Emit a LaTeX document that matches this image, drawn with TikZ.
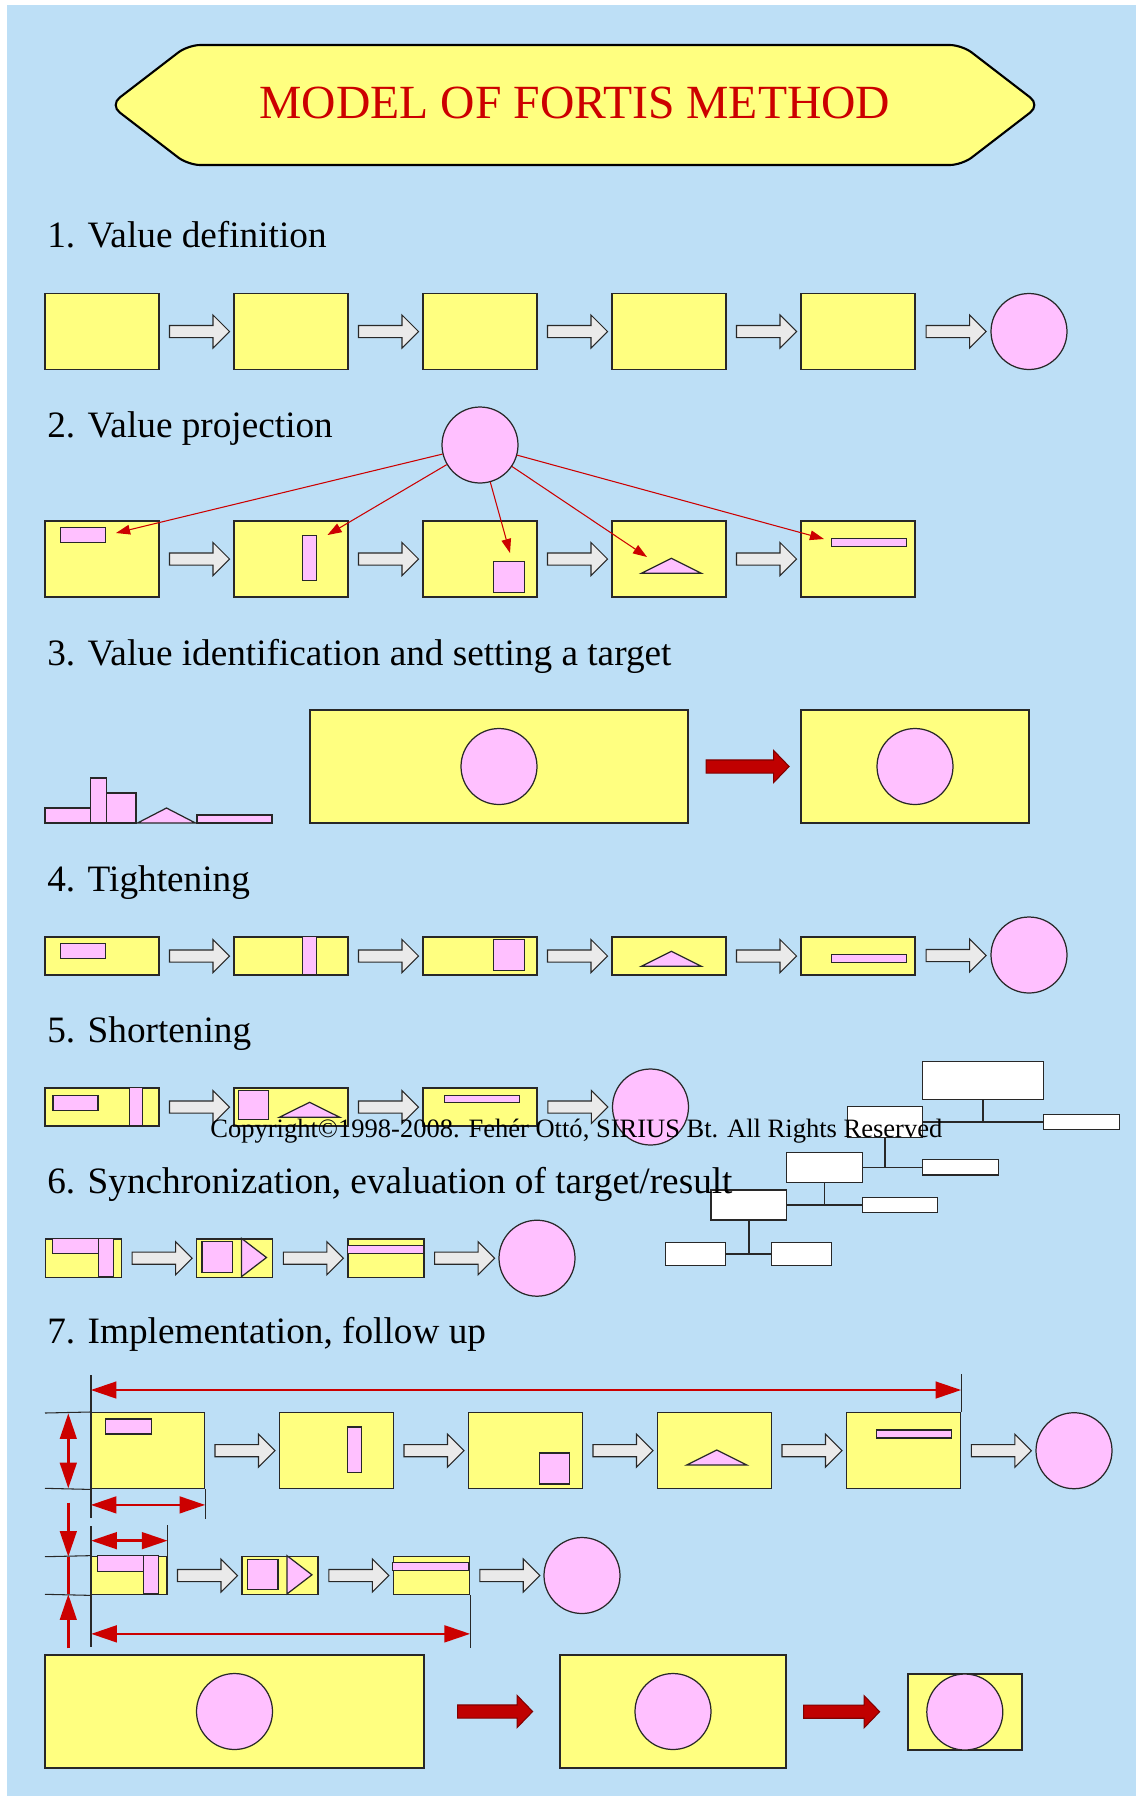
\documentclass[tikz,border=0pt]{standalone}
\usepackage{fontspec}
\setmainfont{Liberation Serif}
\usetikzlibrary{shapes.arrows,arrows.meta,calc}
\definecolor{bgblue}{RGB}{189,223,246}
\definecolor{boxy}{RGB}{255,255,128}
\definecolor{pinkc}{RGB}{255,192,255}
\definecolor{arrgray}{RGB}{234,234,234}
\definecolor{redc}{RGB}{204,0,0}
\definecolor{darkredc}{RGB}{192,0,0}
\definecolor{linec}{RGB}{40,40,40}

\begin{document}
\begin{tikzpicture}[x=0.02cm, y=-0.02cm,
  ybox/.style={draw=linec, fill=boxy, line width=0.8pt, inner sep=0pt},
  tallbox/.style={minimum width=2.28cm, minimum height=1.52cm},
  flatbox/.style={minimum width=2.28cm, minimum height=0.76cm},
  shortbox/.style={minimum width=1.52cm, minimum height=0.766cm},
  pk/.style={draw=linec, fill=pinkc, line width=0.7pt},
  valcirc/.style={circle, draw=linec, fill=pinkc, line width=0.7pt, minimum size=1.52cm, inner sep=0pt},
  garrow/.style={single arrow, draw=linec, fill=arrgray, line width=0.6pt, inner xsep=0pt,
    inner ysep=0.11cm, minimum height=1.2cm, single arrow head extend=0.21cm},
  rarrow/.style={single arrow, draw=red!50!black, fill=darkredc, line width=0.6pt, inner xsep=0pt,
    inner ysep=0.12cm, single arrow head extend=0.19cm, single arrow tip angle=92},
  proj/.style={draw=redc, line width=0.6pt, -{Triangle[length=8pt,width=5.5pt]}},
  dim/.style={draw=redc, line width=1.4pt, >={Triangle[length=14.6pt,width=9.5pt]}},
  ext/.style={draw=linec, line width=0.6pt},
  wbox/.style={draw=linec, fill=white, line width=0.7pt, inner sep=0pt},
  org/.style={draw=linec, line width=0.9pt},
  heading/.style={anchor=base west, inner sep=0pt, font=\fontsize{21.2}{25}\selectfont}]

% background
\fill[white] (0,0) rectangle (1136,1796);
\fill[bgblue] (7,5) rectangle (1136,1796);
\useasboundingbox (0,0) rectangle (1136,1796);

% title
\draw[fill=boxy, draw=black, line width=1.2pt, rounded corners=7pt]
  (110,105) -- (188,45) -- (962,45) -- (1040,105) -- (962,165) -- (188,165) -- cycle;
\node[anchor=base, inner sep=0pt, text=redc, font=\fontsize{27.1}{32}\selectfont] (title) at (575,118) {MODEL OF FORTIS METHOD};

% 1. value definition
\foreach \i in {1,...,5}
  \node[ybox,tallbox] (a\i) at ({102+189*(\i-1)},331.5) {};
\node[valcirc] (a6) at (1029,331.5) {};
\foreach \i/\j in {1/2,2/3,3/4,4/5,5/6}
  \path (a\i.east) -- node[garrow] {} (a\j.west);

% 2. value projection
\node[valcirc] (val) at (480,445) {};
\foreach \i in {1,...,5}
  \node[ybox,tallbox] (b\i) at ({102+189*(\i-1)},559) {};
\foreach \i/\j in {1/2,2/3,3/4,4/5}
  \path (b\i.east) -- node[garrow] {} (b\j.west);
\coordinate (p1) at (116,533);
\coordinate (p2) at (327.5,535);
\coordinate (p3) at (510,553);
\coordinate (p4) at (647,557);
\coordinate (p5) at (824,539);

% 3. value identification
\draw[pk] (45,808) rectangle (90.5,823);
\draw[pk] (90.5,778) rectangle (106.5,823);
\draw[pk] (106.5,793) rectangle (136,823);
\draw[pk] (137.5,823) -- (166.5,808) -- (195.5,823) -- cycle;
\draw[pk] (197,815) rectangle (272,823);
\node[ybox, minimum width=7.56cm, minimum height=2.26cm] (c1) at (499,766.5) {};
\node[valcirc] (c1v) at (c1) {};
\node[ybox, minimum width=4.56cm, minimum height=2.26cm] (c2) at (915,766.5) {};
\node[valcirc] (c2v) at (c2) {};
\path (c1.east) -- node[rarrow, minimum height=1.66cm] {} (c2.west);

% 4. tightening
\foreach \i in {1,...,5}
  \node[ybox,flatbox] (d\i) at ({102+189*(\i-1)},956) {};
\node[valcirc] (d6) at (1029,955) {};
\foreach \i/\j in {1/2,2/3,3/4,4/5,5/6}
  \path (d\i.east) -- node[garrow] {} (d\j.west);
\draw[pk] ([shift={(16,7)}]d1.north west) rectangle ++(45.5,15);
\draw[pk] ([shift={(69,0)}]d2.north west) rectangle ++(14,38);
\draw[pk] ([shift={(71.5,3)}]d3.north west) rectangle ++(30.5,31);
\draw[pk] ([shift={(30,30)}]d4.north west) -- ++(60,0) -- ++(-30,-15) -- cycle;
\draw[pk] ([shift={(31,18.5)}]d5.north west) rectangle ++(75,7.5);

% 5. shortening
\foreach \i in {1,2,3}
  \node[ybox,flatbox] (e\i) at ({102+189*(\i-1)},1107) {};
\node[valcirc] (e4) at (650.5,1107) {};
\foreach \i/\j in {1/2,2/3,3/4}
  \path (e\i.east) -- node[garrow] {} (e\j.west);
\draw[pk] ([shift={(8.6,8)}]e1.north west) rectangle ++(45,15);
\draw[pk] ([shift={(85,0)}]e1.north west) rectangle ++(13.5,38);
\draw[pk] ([shift={(5,3)}]e2.north west) rectangle ++(30.5,29);
\draw[pk] ([shift={(46,30)}]e2.north west) -- ++(60.5,0) -- ++(-30.25,-15) -- cycle;
\draw[pk] ([shift={(22,8)}]e3.north west) rectangle ++(75.5,7);

% organisation chart
\node[wbox, minimum width=2.41cm, minimum height=0.75cm] (o1) at (983,1080.5) {};
\node[wbox, minimum width=1.51cm, minimum height=0.61cm] (o2) at (885,1122) {};
\node[wbox, minimum width=1.52cm, minimum height=0.3cm] (o3) at (1081.3,1122) {};
\node[wbox, minimum width=1.51cm, minimum height=0.6cm] (o4) at (824.5,1167.3) {};
\node[wbox, minimum width=1.51cm, minimum height=0.31cm] (o5) at (960.5,1167.3) {};
\node[wbox, minimum width=1.51cm, minimum height=0.6cm] (o6) at (748.8,1205) {};
\node[wbox, minimum width=1.51cm, minimum height=0.31cm] (o7) at (900,1205) {};
\node[wbox, minimum width=1.2cm, minimum height=0.46cm] (o8) at (695.8,1254.2) {};
\node[wbox, minimum width=1.2cm, minimum height=0.46cm] (o9) at (801.8,1254.2) {};
\draw[org] (o2.east) -- (o3.west) (o1.south) -- (o1.south |- o2.east);
\draw[org] (o4.east) -- (o5.west) (o2.south) -- (o2.south |- o4.east);
\draw[org] (o6.east) -- (o7.west) (o4.south) -- (o4.south |- o6.east);
\draw[org] (o8.east) -- (o9.west) (o6.south) -- (o6.south |- o8.east);

% 6. synchronization
\foreach \i in {1,2,3}
  \node[ybox,shortbox] (f\i) at ({83.4+151.3*(\i-1)},1258.2) {};
\node[valcirc] (f4) at (537,1258.2) {};
\foreach \i/\j in {1/2,2/3,3/4}
  \path (f\i.east) -- node[garrow] {} (f\j.west);

% 7. implementation
\foreach \i in {1,...,5}
  \node[ybox,tallbox] (g\i) at ({147.5+189*(\i-1)},1450.7) {};
\node[valcirc] (g6) at (1074,1450.7) {};
\foreach \i/\j in {1/2,2/3,3/4,4/5,5/6}
  \path (g\i.east) -- node[garrow] {} (g\j.west);
\foreach \i in {1,2,3}
  \node[ybox,shortbox] (h\i) at ({128.85+151.3*(\i-1)},1575.5) {};
\node[valcirc] (h4) at (582,1575.5) {};
\foreach \i/\j in {1/2,2/3,3/4}
  \path (h\i.east) -- node[garrow] {} (h\j.west);
\node[ybox, minimum width=7.58cm, minimum height=2.26cm] (k1) at (234.5,1711.5) {};
\node[valcirc] (k1v) at (k1) {};
\node[ybox, minimum width=4.52cm, minimum height=2.26cm] (k2) at (673,1711.5) {};
\node[valcirc] (k2v) at (k2) {};
\node[ybox,tallbox] (k3) at (964.8,1712) {};
\node[valcirc] (k3v) at (k3) {};
\path (k1.east) -- node[rarrow, minimum height=1.5cm] {} (k2.west);
\path (k2.east) -- node[rarrow, minimum height=1.52cm, pos=.43] {} (k3.west);

% shapes inside the boxes
\foreach \r in {b,g} {
  \draw[pk] ([shift={(16,7)}]\r1.north west) rectangle ++(45.5,15);
  \draw[pk] ([shift={(69,15)}]\r2.north west) rectangle ++(14,45.5);
  \draw[pk] ([shift={(71.5,41)}]\r3.north west) rectangle ++(30.5,31);
  \draw[pk] ([shift={(30,53)}]\r4.north west) -- ++(60,0) -- ++(-30,-15) -- cycle;
  \draw[pk] ([shift={(31,18)}]\r5.north west) rectangle ++(75,8);
}
\foreach \r in {f,h} {
  \draw[pk] ([shift={(7.5,0)}]\r1.north west) rectangle ++(46,15.5);
  \draw[pk] ([shift={(53.5,0)}]\r1.north west) rectangle ++(15,38.3);
  \draw[pk] ([shift={(6,3.5)}]\r2.north west) rectangle ++(30.5,30.5);
  \draw[pk] ([shift={(45.5,0)}]\r2.north west) -- ++(25,19.15) -- ++(-25,19.15) -- cycle;
  \draw[pk] ([shift={(0,7)}]\r3.north west) rectangle ++(76,8);
}
\foreach \i in {1,...,5}
  \draw[proj] (val) -- (p\i);

% measure lines
\draw[ext] (91,1375) -- (91,1518) (91,1526) -- (91,1647);
\draw[ext] (g5.north east) -- ++(0,-38);
\draw[ext] (g1.south east) -- ++(0,30);
\draw[ext] (h1.north east) -- ++(0,-31);
\draw[ext] (h3.south east) -- ++(0,53);
\draw[ext] (45,1413) -- (g1.north west) (45,1488.3) -- (g1.south west);
\draw[ext] (45,1556.7) -- (h1.north west) (45,1594.3) -- (h1.south west);
\draw[dim,<->] ($(g1.north west)+(1,-22)$) -- ($(g5.north east)+(0,-22)$);
\draw[dim,<->] (68.3,1413.3) -- (68.3,1488.3);
\draw[dim,<->] ($(g1.south west)+(1,15.5)$) -- ($(g1.south east)+(0,15.5)$);
\draw[dim,<->] ($(h1.north west)+(1,-15)$) -- ($(h1.north east)+(0,-15)$);
\draw[dim,->] (68.3,1502.7) -- (68.3,1556.7);
\draw[dim] (68.3,1556.7) -- (68.3,1594.3);
\draw[dim,->] (68.3,1648.3) -- (68.3,1594.3);
\draw[dim,<->] ($(h1.south west)+(1,38.5)$) -- ($(h3.south east)+(0,38.5)$);

% texts
\node[heading] (s1) at (47,247) {1. Value definition};
\node[heading] (s2) at (47,437) {2. Value projection};
\node[heading] (s3) at (47,665) {3. Value identification and setting a target};
\node[heading] (s4) at (47,891) {4. Tightening};
\node[heading] (s5) at (47,1042) {5. Shortening};
\node[heading] (s6) at (47,1193) {6. Synchronization, evaluation of target/result};
\node[heading] (s7) at (47,1343) {7. Implementation, follow up};
\node[anchor=base west, inner sep=0pt, font=\fontsize{15.1}{18}\selectfont] (copy) at (210,1137)
  {Copyright©1998-2008. Fehér Ottó, SIRIUS Bt. All Rights Reserved};
\end{tikzpicture}
\end{document}
